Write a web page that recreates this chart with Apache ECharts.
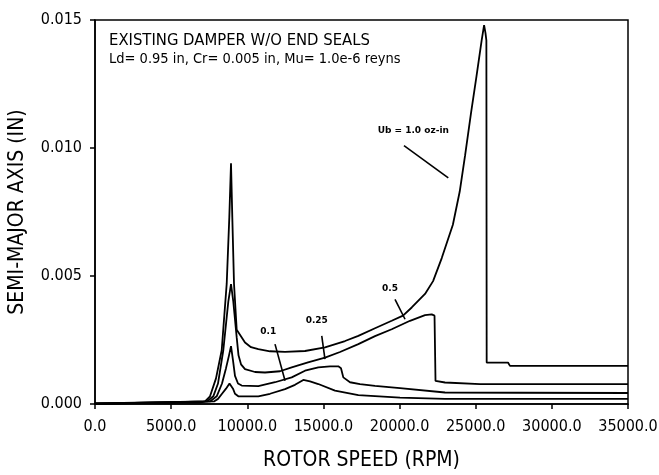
<!DOCTYPE html>
<html>
<head>
<meta charset="utf-8">
<script src="https://cdn.jsdelivr.net/npm/echarts@6/dist/echarts.min.js"></script>
<style>
html,body{margin:0;padding:0;background:#fff;}
#chart{width:659px;height:475px;}
</style>
</head>
<body>
<div id="chart"></div>
<script>
// ---- data ----
const xTicks = [0, 5000, 10000, 15000, 20000, 25000, 30000, 35000];
const yTicks = [0, 0.005, 0.010, 0.015];

const seriesNames = ['1.0', '0.5', '0.25', '0.1'];

const rpm_10 = [0, 6895, 7224, 7552, 7946, 8320, 8649, 8820, 8931, 9016, 9128, 9305, 9850, 10244, 10724, 11492, 12477, 13790, 15104, 16418, 17291, 18387, 19484, 20226, 20798, 21671, 22200, 22770, 23500, 23950, 24300, 24700, 25050, 25390, 25550, 25640, 25700, 25720, 27120, 27250, 35000];
const amp_10 = [0.00002, 0.00005, 0.0001, 0.0003, 0.0010, 0.0021, 0.0047, 0.0073, 0.0094, 0.0073, 0.0047, 0.0029, 0.0024, 0.00222, 0.00214, 0.00206, 0.00204, 0.00207, 0.00221, 0.00246, 0.00266, 0.00296, 0.00325, 0.00345, 0.00377, 0.0043, 0.0048, 0.0057, 0.0070, 0.0083, 0.0097, 0.0114, 0.0128, 0.0142, 0.0148, 0.0145, 0.0142, 0.00162, 0.00162, 0.00149, 0.00149];

const rpm_05 = [0, 7355, 7768, 8077, 8425, 8754, 8931, 9082, 9305, 9423, 9588, 9850, 10507, 11164, 12149, 12917, 13988, 15104, 16089, 17291, 18387, 19484, 20685, 21671, 22111, 22295, 22360, 22984, 25282, 35000];
const amp_05 = [0.00002, 0.0001, 0.0003, 0.0008, 0.0021, 0.0040, 0.00468, 0.0040, 0.0026, 0.0019, 0.00155, 0.00136, 0.00125, 0.00123, 0.00128, 0.00143, 0.00163, 0.00181, 0.00203, 0.00234, 0.00265, 0.00292, 0.00325, 0.00347, 0.0035, 0.00345, 0.0009, 0.00084, 0.00078, 0.00078];

const rpm_025 = [0, 7552, 7992, 8340, 8603, 8800, 8931, 9062, 9193, 9390, 9634, 10724, 11820, 12917, 13790, 14664, 15432, 15977, 16154, 16305, 16745, 17402, 18387, 20029, 22983, 27908, 35000];
const amp_025 = [0.00001, 0.0001, 0.0003, 0.0008, 0.0014, 0.0019, 0.00226, 0.0017, 0.0011, 0.0008, 0.00072, 0.0007, 0.00085, 0.00104, 0.0013, 0.00143, 0.00147, 0.00147, 0.0014, 0.00104, 0.00085, 0.00078, 0.00071, 0.00062, 0.00045, 0.00044, 0.00043];

const rpm_01 = [0, 7814, 8077, 8340, 8603, 8832, 8931, 9062, 9193, 9410, 10724, 11492, 12477, 13133, 13679, 14119, 14664, 15760, 17291, 20029, 22983, 35000];
const amp_01 = [0.00001, 0.0001, 0.0002, 0.0004, 0.0006, 0.0008, 0.00086, 0.0006, 0.0004, 0.0003, 0.0003, 0.0004, 0.00058, 0.00075, 0.00094, 0.00088, 0.00078, 0.00052, 0.00035, 0.00025, 0.0002, 0.0002];

const annoTexts = ['Ub = 1.0 oz-in', '0.5', '0.25', '0.1'];

// ---- chart ----
const pair = (xs, ys) => xs.map((x, i) => [x, ys[i]]);
const narrow = "'DejaVu Sans Condensed', 'Liberation Sans Narrow', sans-serif";
const lineStyle = { color: '#000', width: 1.8 };

const chart = echarts.init(document.getElementById('chart'), null, { renderer: 'canvas' });

const annoStyle = { fontFamily: 'DejaVu Sans', fontWeight: 'bold', fontSize: 9, color: '#000' };

chart.setOption({
  animation: false,
  backgroundColor: '#fff',
  title: {
    text: 'EXISTING DAMPER W/O END SEALS',
    subtext: 'Ld= 0.95 in, Cr= 0.005 in, Mu= 1.0e-6 reyns',
    left: 109, top: 32, itemGap: 3, padding: 0,
    textStyle: { fontFamily: narrow, fontWeight: 'normal', fontSize: 16.5, color: '#000' },
    subtextStyle: { fontFamily: narrow, fontSize: 14.5, color: '#000' }
  },
  grid: { left: 95, right: 31, top: 20, bottom: 71, show: true, borderColor: '#000', borderWidth: 1.5, containLabel: false, outerBoundsMode: 'none' },
  xAxis: {
    type: 'value', min: xTicks[0], max: xTicks[xTicks.length - 1], interval: xTicks[1] - xTicks[0],
    name: 'ROTOR SPEED (RPM)', nameLocation: 'middle', nameGap: 46,
    nameTextStyle: { fontFamily: narrow, fontSize: 21, color: '#000' },
    axisLine: { lineStyle: { color: '#000', width: 1.5 } },
    axisTick: { inside: false, length: 5, lineStyle: { color: '#000', width: 1.5 } },
    axisLabel: { margin: 15, fontFamily: narrow, fontSize: 16, color: '#000', formatter: v => v.toFixed(1) },
    splitLine: { show: false }
  },
  yAxis: {
    type: 'value', min: yTicks[0], max: yTicks[yTicks.length - 1], interval: yTicks[1] - yTicks[0],
    name: 'SEMI-MAJOR AXIS (IN)', nameLocation: 'middle', nameGap: 67, nameRotate: 90,
    nameTextStyle: { fontFamily: narrow, fontSize: 21, color: '#000' },
    axisLine: { lineStyle: { color: '#000', width: 1.5 } },
    axisTick: { inside: false, length: 5, lineStyle: { color: '#000', width: 1.5 } },
    axisLabel: { margin: 13, fontFamily: narrow, fontSize: 16, color: '#000', formatter: v => v.toFixed(3) },
    splitLine: { show: false }
  },
  series: [
    { name: seriesNames[0], type: 'line', data: pair(rpm_10, amp_10), showSymbol: false, symbol: 'none', lineStyle, z: 3,
      markLine: {
        silent: true, symbol: 'none', label: { show: false },
        lineStyle: { color: '#000', width: 1.6, type: 'solid' },
        data: [
          [{ coord: [20290, 0.01009] }, { coord: [23200, 0.00883] }],
          [{ coord: [19700, 0.00409] }, { coord: [20360, 0.00331] }],
          [{ coord: [14890, 0.00266] }, { coord: [15100, 0.00175] }],
          [{ coord: [11820, 0.00234] }, { coord: [12480, 0.00091] }]
        ]
      },
      markPoint: {
        silent: true, symbol: 'circle', symbolSize: 0,
        label: Object.assign({ show: true, position: 'inside' }, annoStyle),
        data: [
          { coord: [20900, 0.01067], value: annoTexts[0], label: { formatter: annoTexts[0] } },
          { coord: [19370, 0.00452], value: annoTexts[1], label: { formatter: annoTexts[1] } },
          { coord: [14560, 0.00325], value: annoTexts[2], label: { formatter: annoTexts[2] } },
          { coord: [11380, 0.00282], value: annoTexts[3], label: { formatter: annoTexts[3] } }
        ]
      }
    },
    { name: seriesNames[1], type: 'line', data: pair(rpm_05, amp_05), showSymbol: false, symbol: 'none', lineStyle, z: 3 },
    { name: seriesNames[2], type: 'line', data: pair(rpm_025, amp_025), showSymbol: false, symbol: 'none', lineStyle, z: 3 },
    { name: seriesNames[3], type: 'line', data: pair(rpm_01, amp_01), showSymbol: false, symbol: 'none', lineStyle, z: 3 }
  ]
});
</script>
</body>
</html>
